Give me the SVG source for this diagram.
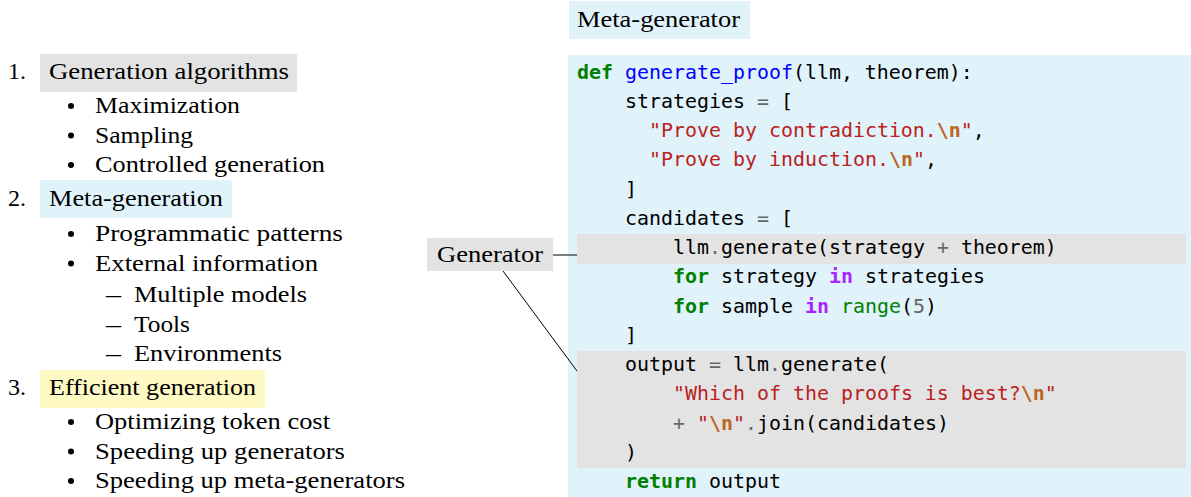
<svg xmlns="http://www.w3.org/2000/svg" width="1191" height="497" viewBox="0 0 1191 497">
<style>
.rm{font-family:"Liberation Serif","Times New Roman",serif;font-size:24px;fill:#000}
.code{font-family:"DejaVu Sans Mono","Liberation Mono",monospace;font-size:19.93px;fill:#000;white-space:pre}
.k{fill:#008000;font-weight:bold}
.nf{fill:#0000ff}
.o{fill:#666666}
.s{fill:#ba2121}
.se{fill:#bb6622;font-weight:bold}
.ow{fill:#aa22ff;font-weight:bold}
.nb{fill:#008000}
.m{fill:#666666}
.gray{fill:#e3e3e3}
.blue{fill:#e0f2fa}
.yellow{fill:#fff9c4}
.conn{stroke:#000;stroke-width:1;fill:none}
</style>
<rect width="1191" height="497" fill="#ffffff"/>

<g id="outline">
  <g id="item-1">
    <rect class="gray" x="40" y="54" width="257" height="38"/>
    <text class="rm" x="8" y="79">1.</text>
    <text class="rm" x="49" y="79" textLength="240" lengthAdjust="spacingAndGlyphs">Generation algorithms</text>
    <circle cx="71" cy="106" r="3"/>
    <text class="rm" x="95" y="113" textLength="145" lengthAdjust="spacingAndGlyphs">Maximization</text>
    <circle cx="71" cy="135.5" r="3"/>
    <text class="rm" x="95" y="142.5" textLength="98" lengthAdjust="spacingAndGlyphs">Sampling</text>
    <circle cx="71" cy="165" r="3"/>
    <text class="rm" x="95" y="172" textLength="230" lengthAdjust="spacingAndGlyphs">Controlled generation</text>
  </g>
  <g id="item-2">
    <rect class="blue" x="40" y="180" width="192" height="38"/>
    <text class="rm" x="8" y="206">2.</text>
    <text class="rm" x="49" y="206" textLength="174" lengthAdjust="spacingAndGlyphs">Meta-generation</text>
    <circle cx="71" cy="234" r="3"/>
    <text class="rm" x="95" y="241" textLength="248" lengthAdjust="spacingAndGlyphs">Programmatic patterns</text>
    <circle cx="71" cy="263.5" r="3"/>
    <text class="rm" x="95" y="270.5" textLength="223" lengthAdjust="spacingAndGlyphs">External information</text>
    <text class="rm" x="106" y="302" textLength="15" lengthAdjust="spacingAndGlyphs">–</text>
    <text class="rm" x="134" y="302" textLength="173" lengthAdjust="spacingAndGlyphs">Multiple models</text>
    <text class="rm" x="106" y="331.5" textLength="15" lengthAdjust="spacingAndGlyphs">–</text>
    <text class="rm" x="134" y="331.5" textLength="56" lengthAdjust="spacingAndGlyphs">Tools</text>
    <text class="rm" x="106" y="361" textLength="15" lengthAdjust="spacingAndGlyphs">–</text>
    <text class="rm" x="134" y="361" textLength="148" lengthAdjust="spacingAndGlyphs">Environments</text>
  </g>
  <g id="item-3">
    <rect class="yellow" x="40" y="370" width="225" height="38"/>
    <text class="rm" x="8" y="395">3.</text>
    <text class="rm" x="49" y="395" textLength="207" lengthAdjust="spacingAndGlyphs">Efficient generation</text>
    <circle cx="71" cy="422" r="3"/>
    <text class="rm" x="95" y="429" textLength="235" lengthAdjust="spacingAndGlyphs">Optimizing token cost</text>
    <circle cx="71" cy="451.5" r="3"/>
    <text class="rm" x="95" y="458.5" textLength="250" lengthAdjust="spacingAndGlyphs">Speeding up generators</text>
    <circle cx="71" cy="481" r="3"/>
    <text class="rm" x="95" y="488" textLength="310" lengthAdjust="spacingAndGlyphs">Speeding up meta-generators</text>
  </g>
</g>

<g id="meta-generator-label">
  <rect class="blue" x="569" y="1" width="181" height="38"/>
  <text class="rm" x="577" y="27" textLength="163" lengthAdjust="spacingAndGlyphs">Meta-generator</text>
</g>

<g id="code-block">
  <rect class="blue" x="568" y="55" width="623" height="442"/>
  <rect id="generator-highlight" class="gray" x="577" y="234" width="609" height="30"/>
  <rect id="meta-highlight" class="gray" x="577" y="351" width="609" height="117"/>
  <text class="code" xml:space="preserve" x="577" y="78.5"><tspan class="k">def</tspan> <tspan class="nf">generate_proof</tspan>(llm, theorem):</text>
  <text class="code" xml:space="preserve" x="625" y="107.75">strategies <tspan class="o">=</tspan> [</text>
  <text class="code" xml:space="preserve" x="649" y="137"><tspan class="s">"Prove by contradiction.</tspan><tspan class="se">\n</tspan><tspan class="s">"</tspan>,</text>
  <text class="code" xml:space="preserve" x="649" y="166.25"><tspan class="s">"Prove by induction.</tspan><tspan class="se">\n</tspan><tspan class="s">"</tspan>,</text>
  <text class="code" xml:space="preserve" x="625" y="195.5">]</text>
  <text class="code" xml:space="preserve" x="625" y="224.75">candidates <tspan class="o">=</tspan> [</text>
  <text class="code" xml:space="preserve" x="673" y="254">llm<tspan class="o">.</tspan>generate(strategy <tspan class="o">+</tspan> theorem)</text>
  <text class="code" xml:space="preserve" x="673" y="283.25"><tspan class="k">for</tspan> strategy <tspan class="ow">in</tspan> strategies</text>
  <text class="code" xml:space="preserve" x="673" y="312.5"><tspan class="k">for</tspan> sample <tspan class="ow">in</tspan> <tspan class="nb">range</tspan>(<tspan class="m">5</tspan>)</text>
  <text class="code" xml:space="preserve" x="625" y="341.75">]</text>
  <text class="code" xml:space="preserve" x="625" y="371">output <tspan class="o">=</tspan> llm<tspan class="o">.</tspan>generate(</text>
  <text class="code" xml:space="preserve" x="673" y="400.25"><tspan class="s">"Which of the proofs is best?</tspan><tspan class="se">\n</tspan><tspan class="s">"</tspan></text>
  <text class="code" xml:space="preserve" x="673" y="429.5"><tspan class="o">+</tspan> <tspan class="s">"</tspan><tspan class="se">\n</tspan><tspan class="s">"</tspan><tspan class="o">.</tspan>join(candidates)</text>
  <text class="code" xml:space="preserve" x="625" y="458.75">)</text>
  <text class="code" xml:space="preserve" x="625" y="488"><tspan class="k">return</tspan> output</text>
</g>

<g id="generator-label">
  <rect class="gray" x="427" y="238" width="126" height="33"/>
  <text class="rm" x="437" y="262" textLength="106" lengthAdjust="spacingAndGlyphs">Generator</text>
</g>

<g id="connectors">
  <line class="conn" x1="553" y1="255" x2="577" y2="255"/>
  <line class="conn" x1="503" y1="271" x2="577" y2="371"/>
</g>
</svg>
